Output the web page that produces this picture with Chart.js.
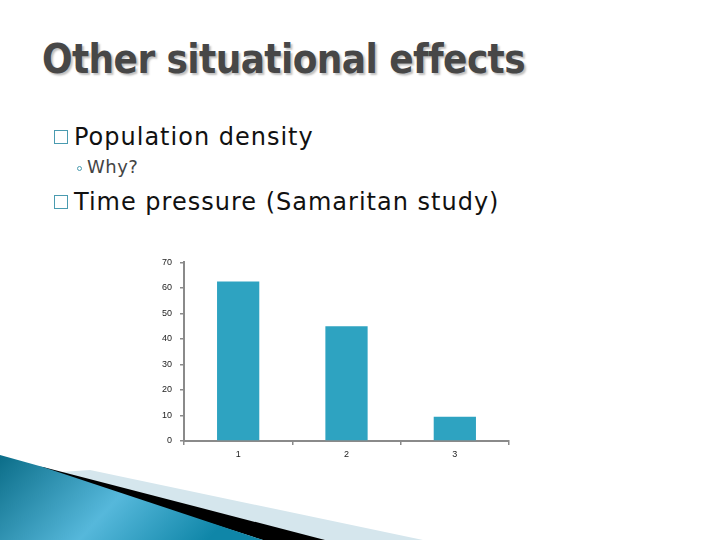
<!DOCTYPE html>
<html>
<head>
<meta charset="utf-8">
<script src="https://cdn.jsdelivr.net/npm/chart.js@4"></script>
<style>
  html, body { margin: 0; padding: 0; background: #fff; }
  .slide { position: relative; width: 720px; height: 540px; overflow: hidden; background: #fff; }
  .title {
    position: absolute; left: 42px; top: 36px; margin: 0;
    font-family: "DejaVu Sans Condensed", "DejaVu Sans", sans-serif; font-weight: bold;
    font-size: 40px; letter-spacing: -0.6px; color: #474747;
    text-shadow: 2px 2px 2px rgba(0,0,0,0.25); white-space: nowrap;
  }
  .bullet { position: absolute; font-family: "DejaVu Sans", sans-serif; white-space: nowrap; color: #111; }
  .lvl1 { font-size: 24px; left: 74px; letter-spacing: 1px; line-height: 28px; }
  .lvl2 { font-size: 18px; left: 87px; color: #444; letter-spacing: 0.5px; line-height: 22px; }
  .box { position: absolute; left: -20px; top: 7px; width: 14px; height: 14px; border: 1.5px solid #4a9bb0; box-sizing: border-box; }
  .ring { position: absolute; left: -10px; top: 10px; width: 5px; height: 5px; border: 1px solid #4a9bb0; border-radius: 50%; box-sizing: border-box; }
  .chart-box { position: absolute; left: 150px; top: 249px; width: 370px; height: 221px; }
  .deco { position: absolute; left: 0; top: 0; }
</style>
</head>
<body>
<div class="slide">
  <svg class="deco" width="720" height="540">
    <defs>
      <linearGradient id="teal" x1="0" y1="0" x2="1" y2="0.3">
        <stop offset="0" stop-color="#0b6d88"/>
        <stop offset="0.55" stop-color="#56b8db"/>
        <stop offset="1" stop-color="#0f86a8"/>
      </linearGradient>
    </defs>
    <polygon points="90,470 423,540 300,540 60,472" fill="#d5e6ed"/>
    <polygon points="43,467 325,540 263,540 30,466" fill="#000"/>
    <polygon points="0,455 43,467 263,540 0,540" fill="url(#teal)"/>
  </svg>

  <h1 class="title">Other situational effects</h1>

  <div class="bullet lvl1" style="top:123px"><span class="box"></span>Population density</div>
  <div class="bullet lvl2" style="top:156px"><span class="ring"></span>Why?</div>
  <div class="bullet lvl1" style="top:188px"><span class="box"></span>Time pressure (Samaritan study)</div>

  <div class="chart-box"><canvas id="barChart"></canvas></div>
</div>

<script>
  // data
  const categories = ['1', '2', '3'];
  const values = [62.5, 45, 9.5];
  const yTicks = [0, 10, 20, 30, 40, 50, 60, 70];

  const axisGrey = '#8a8a8a';

  new Chart(document.getElementById('barChart'), {
    type: 'bar',
    data: {
      labels: categories,
      datasets: [{
        data: values,
        backgroundColor: '#2ea3c1',
        barPercentage: 0.39,
        categoryPercentage: 1
      }]
    },
    options: {
      responsive: true,
      maintainAspectRatio: false,
      animation: false,
      layout: { padding: { top: 7, right: 11, left: 0, bottom: 0 } },
      plugins: {
        legend: { display: false },
        tooltip: { enabled: false }
      },
      scales: {
        x: {
          grid: { display: true, drawOnChartArea: false, drawTicks: true, tickLength: 4, color: axisGrey, lineWidth: 1.5, offset: true },
          border: { color: axisGrey, width: 2 },
          ticks: { color: '#222', font: { family: 'Liberation Sans', size: 9 }, padding: 4 },
          afterFit: (scale) => { scale.height = 29; }
        },
        y: {
          min: 0,
          max: 70,
          afterBuildTicks: (scale) => { scale.ticks = yTicks.map(v => ({ value: v })); },
          grid: { display: true, drawOnChartArea: false, drawTicks: true, tickLength: 4, color: axisGrey, lineWidth: 1.5 },
          border: { color: axisGrey, width: 2 },
          ticks: { color: '#222', font: { family: 'Liberation Sans', size: 9 }, padding: 8 },
          afterFit: (scale) => { scale.width = 34; }
        }
      }
    }
  });
</script>
</body>
</html>
